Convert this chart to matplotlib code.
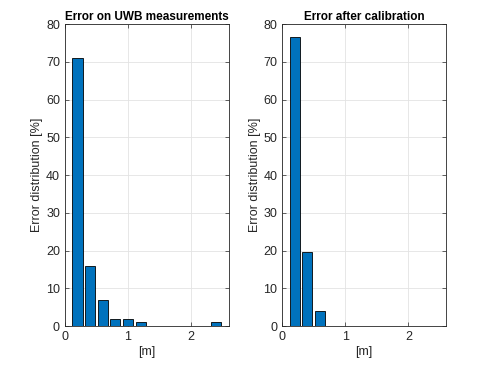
import numpy as np
import matplotlib.pyplot as plt

plt.rcParams['font.family'] = ['Liberation Sans', 'DejaVu Sans']

# bin centres [m] and percentages
centers = [0.2, 0.4, 0.6, 0.8, 1.0, 1.2, 1.4, 1.6, 1.8, 2.0, 2.2, 2.4]
err_uwb = [71, 16, 7, 2, 2, 1, 0, 0, 0, 0, 0, 1]
centers_cal = [0.2, 0.4, 0.6]
err_cal = [76.5, 19.7, 4]

titles = ['Error on UWB measurements', 'Error after calibration']
blue = '#0072BD'
dark = '#262626'

fig = plt.figure(figsize=(4.84, 3.66), dpi=100)
ax1 = fig.add_axes([0.134, 0.109, 0.339, 0.825])
ax2 = fig.add_axes([0.583, 0.109, 0.339, 0.825])

for ax, xs, ys, title in [(ax1, centers, err_uwb, titles[0]),
                          (ax2, centers_cal, err_cal, titles[1])]:
    ax.bar(xs, ys, width=0.16, color=blue, edgecolor='black', linewidth=0.6, zorder=3)
    ax.set_xlim(0, 2.6)
    ax.set_ylim(0, 80)
    ax.set_xticks([0, 1, 2])
    ax.set_yticks(np.arange(0, 81, 10))
    ax.grid(True, color='#e3e3e3', linewidth=0.6, zorder=0)
    ax.tick_params(direction='in', length=3, width=0.5, colors=dark,
                   labelsize=9, top=True, right=True, labeltop=False, labelright=False)
    for s in ax.spines.values():
        s.set_color(dark)
        s.set_linewidth(0.6)
    ax.set_title(title, fontsize=8.5, fontweight='bold', pad=3)
    ax.set_xlabel('[m]', fontsize=9, color=dark, labelpad=2)
    ax.set_ylabel('Error distribution [%]', fontsize=9, color=dark, labelpad=2)

fig.savefig('out.png', dpi=100)
